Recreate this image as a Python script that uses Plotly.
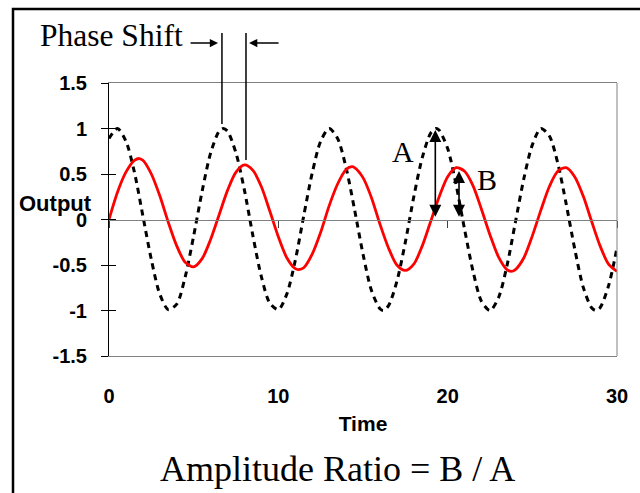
import plotly.graph_objects as go

# ---------------- data ----------------
time_in = [0, 0.5, 1, 1.5, 2, 2.5, 3, 3.5, 4, 4.5, 5, 5.5, 6, 6.5, 6.75, 7, 7.5, 8, 8.5, 9, 9.5, 10,
           10.5, 11, 11.5, 12, 12.5, 13, 13.5, 14, 14.5, 15, 15.5, 16, 16.2, 16.5, 17, 17.5, 18, 18.5,
           19, 19.3, 19.5, 20, 20.5, 21, 21.5, 22, 22.5, 23, 23.5, 24, 24.5, 25, 25.5, 26, 26.5, 27,
           27.5, 28, 28.5, 28.75, 29, 29.5, 30]
input_vals = [0.89, 1.00, 0.86, 0.52, 0.04, -0.44, -0.82, -0.99, -0.93, -0.63, -0.18, 0.31, 0.73, 0.97, 1.00,
              0.97, 0.73, 0.32, -0.18, -0.63, -0.92, -0.99, -0.82, -0.45, 0.04, 0.51, 0.86, 1.00, 0.89, 0.57,
              0.11, -0.38, -0.78, -0.98, -1.00, -0.95, -0.68, -0.25, 0.25, 0.68, 0.95, 1.00, 0.98, 0.78, 0.38,
              -0.11, -0.57, -0.90, -1.00, -0.86, -0.51, -0.03, 0.45, 0.82, 1.00, 0.92, 0.62, 0.17, -0.32,
              -0.74, -0.97, -1.00, -0.97, -0.73, -0.31]

time_out = [0, 0.5, 1, 1.5, 1.8, 2, 2.5, 3, 3.5, 4, 4.5, 5, 5.5, 6, 6.5, 7, 7.5, 8, 8.5, 9, 9.5, 10,
            10.5, 11, 11.2, 11.5, 12, 12.5, 13, 13.5, 14, 14.35, 14.5, 15, 15.5, 16, 16.5, 17, 17.5, 18,
            18.5, 19, 19.5, 20, 20.5, 21, 21.5, 22, 22.5, 23, 23.5, 23.75, 24, 24.5, 25, 25.5, 26, 26.5,
            27, 27.5, 28, 28.5, 29, 29.5, 30]
output_vals = [0.00, 0.30, 0.52, 0.65, 0.67, 0.65, 0.50, 0.26, -0.03, -0.29, -0.47, -0.52, -0.43, -0.22,
               0.05, 0.32, 0.52, 0.60, 0.54, 0.36, 0.09, -0.19, -0.42, -0.54, -0.55, -0.53, -0.38, -0.14,
               0.15, 0.39, 0.55, 0.58, 0.57, 0.46, 0.24, -0.05, -0.31, -0.50, -0.56, -0.49, -0.29, -0.02,
               0.25, 0.47, 0.57, 0.53, 0.37, 0.11, -0.17, -0.41, -0.55, -0.57, -0.55, -0.42, -0.18, 0.10,
               0.36, 0.53, 0.57, 0.47, 0.26, -0.02, -0.29, -0.49, -0.57]

y_tickvals = [-1.5, -1, -0.5, 0, 0.5, 1, 1.5]
y_ticktext = ["-1.5", "-1", "-0.5", "0", "0.5", "1", "1.5"]
x_tickvals = [0, 10, 20, 30]
x_ticktext = ["0", "10", "20", "30"]

# annotation anchors (data units)
input_peak_t = 6.67
output_peak_t = 8.09
arrow_a_t, arrow_a_lo, arrow_a_hi = 19.27, 0.03, 1.0
arrow_b_t, arrow_b_lo, arrow_b_hi = 20.67, 0.03, 0.55

# ---------------- layout geometry ----------------
W, H = 640, 493
L, R, T, B = 109, 617, 83, 356
PW, PH = R - L, B - T


def px(xp):
    return (xp - L) / PW


def py(yp):
    return (B - yp) / PH


SANS = "Liberation Sans, Arial, sans-serif"
SERIF = "Liberation Serif, Times New Roman, serif"
GRAY = "#808080"

fig = go.Figure()
fig.add_trace(go.Scatter(
    x=time_in, y=input_vals, mode="lines", xaxis="x", yaxis="y",
    line=dict(color="black", width=3, dash="6px,5px", shape="spline", smoothing=0.8),
    showlegend=False, hoverinfo="skip"))
fig.add_trace(go.Scatter(
    x=time_out, y=output_vals, mode="lines", xaxis="x2", yaxis="y2",
    line=dict(color="#ff0000", width=2.8, shape="spline", smoothing=0.8),
    showlegend=False, hoverinfo="skip"))

tickfont = dict(family=SANS, size=20, color="black", weight="bold")

fig.update_layout(
    width=W, height=H,
    margin=dict(l=L, r=W - R, t=T, b=H - B, autoexpand=False),
    paper_bgcolor="white", plot_bgcolor="white",
    xaxis=dict(range=[0, 30], showline=True, linecolor=GRAY, linewidth=1, mirror=True,
               ticks="", tickvals=x_tickvals, ticktext=x_ticktext, tickfont=tickfont,
               ticklabelstandoff=22, showgrid=False, zeroline=False, automargin=False,
               title=dict(text="Time", font=dict(family=SANS, size=21, color="black", weight="bold"),
                          standoff=10)),
    xaxis2=dict(range=[0, 30], overlaying="x", anchor="free", position=0.5,
                showline=True, linecolor=GRAY, linewidth=1, ticks="outside", ticklen=7,
                tickcolor="#404040", tickvals=x_tickvals, showticklabels=False,
                showgrid=False, zeroline=False, automargin=False),
    yaxis=dict(range=[-1.5, 1.5], showline=True, linecolor="black", linewidth=1,
               ticks="outside", ticklen=7, tickcolor="black", tickvals=y_tickvals,
               ticktext=y_ticktext, tickfont=tickfont, ticklabelstandoff=10,
               showgrid=False, zeroline=False, automargin=False),
    yaxis2=dict(range=[-1.5, 1.5], overlaying="y", anchor="x", side="left",
                showline=False, ticks="inside", ticklen=7, tickcolor="black",
                tickvals=y_tickvals, showticklabels=False, showgrid=False,
                zeroline=False, automargin=False),
)

shapes = [
    # right border of plot area
    dict(type="line", xref="paper", yref="paper", x0=1, x1=1, y0=0, y1=1,
         line=dict(color=GRAY, width=1)),
    # outer frame (right and bottom edges fall outside the picture)
    dict(type="rect", xref="paper", yref="paper", x0=px(13), x1=px(700), y0=py(540), y1=py(9),
         line=dict(color="black", width=2.5)),
    # phase shift markers
    dict(type="line", xref="x", yref="paper", x0=input_peak_t, x1=input_peak_t,
         y0=py(124), y1=py(33), line=dict(color="black", width=1.5)),
    dict(type="line", xref="x", yref="paper", x0=output_peak_t, x1=output_peak_t,
         y0=py(160), y1=py(33), line=dict(color="black", width=1.5)),
]
fig.update_layout(shapes=shapes)

annotations = [
    dict(text="Phase Shift", xref="paper", yref="paper", x=px(111), y=py(36),
         xanchor="center", yanchor="middle", showarrow=False,
         font=dict(family=SERIF, size=31.5, color="black")),
    dict(text="", xref="x", yref="paper", x=6.44, y=py(43), ax=-29, ay=0,
         showarrow=True, arrowhead=2, arrowsize=1.1, arrowwidth=1.5, arrowcolor="black"),
    dict(text="", xref="x", yref="paper", x=8.27, y=py(43), ax=31, ay=0,
         showarrow=True, arrowhead=2, arrowsize=1.1, arrowwidth=1.5, arrowcolor="black"),
    dict(text="A", xref="x", yref="y", x=17.37, y=0.75, showarrow=False,
         xanchor="center", yanchor="middle", font=dict(family=SERIF, size=30, color="black")),
    dict(text="B", xref="x", yref="y", x=22.33, y=0.44, showarrow=False,
         xanchor="center", yanchor="middle", font=dict(family=SERIF, size=30, color="black")),
    dict(text="", xref="x", yref="y", x=arrow_a_t, y=arrow_a_lo, axref="x", ayref="y",
         ax=arrow_a_t, ay=arrow_a_hi, showarrow=True, arrowside="end+start",
         arrowhead=2, startarrowhead=2, arrowsize=1.5, startarrowsize=1.5, arrowwidth=1.6,
         arrowcolor="black"),
    dict(text="", xref="x", yref="y", x=arrow_b_t, y=arrow_b_lo, axref="x", ayref="y",
         ax=arrow_b_t, ay=arrow_b_hi, showarrow=True, arrowside="end+start",
         arrowhead=2, startarrowhead=2, arrowsize=1.5, startarrowsize=1.5, arrowwidth=1.6,
         arrowcolor="black"),
    dict(text="Output", xref="paper", yref="paper", x=px(55), y=py(203), showarrow=False,
         xanchor="center", yanchor="middle",
         font=dict(family=SANS, size=22, color="black", weight="bold")),
    dict(text="Amplitude Ratio = B / A", xref="paper", yref="paper", x=px(337), y=py(469),
         showarrow=False, xanchor="center", yanchor="middle",
         font=dict(family=SERIF, size=36, color="black")),
]
fig.update_layout(annotations=annotations)

fig.write_html("out.html", config={"displayModeBar": False},
               post_script="document.body.style.margin='0';document.body.style.padding='0';"
                           "document.body.style.overflow='hidden';")
